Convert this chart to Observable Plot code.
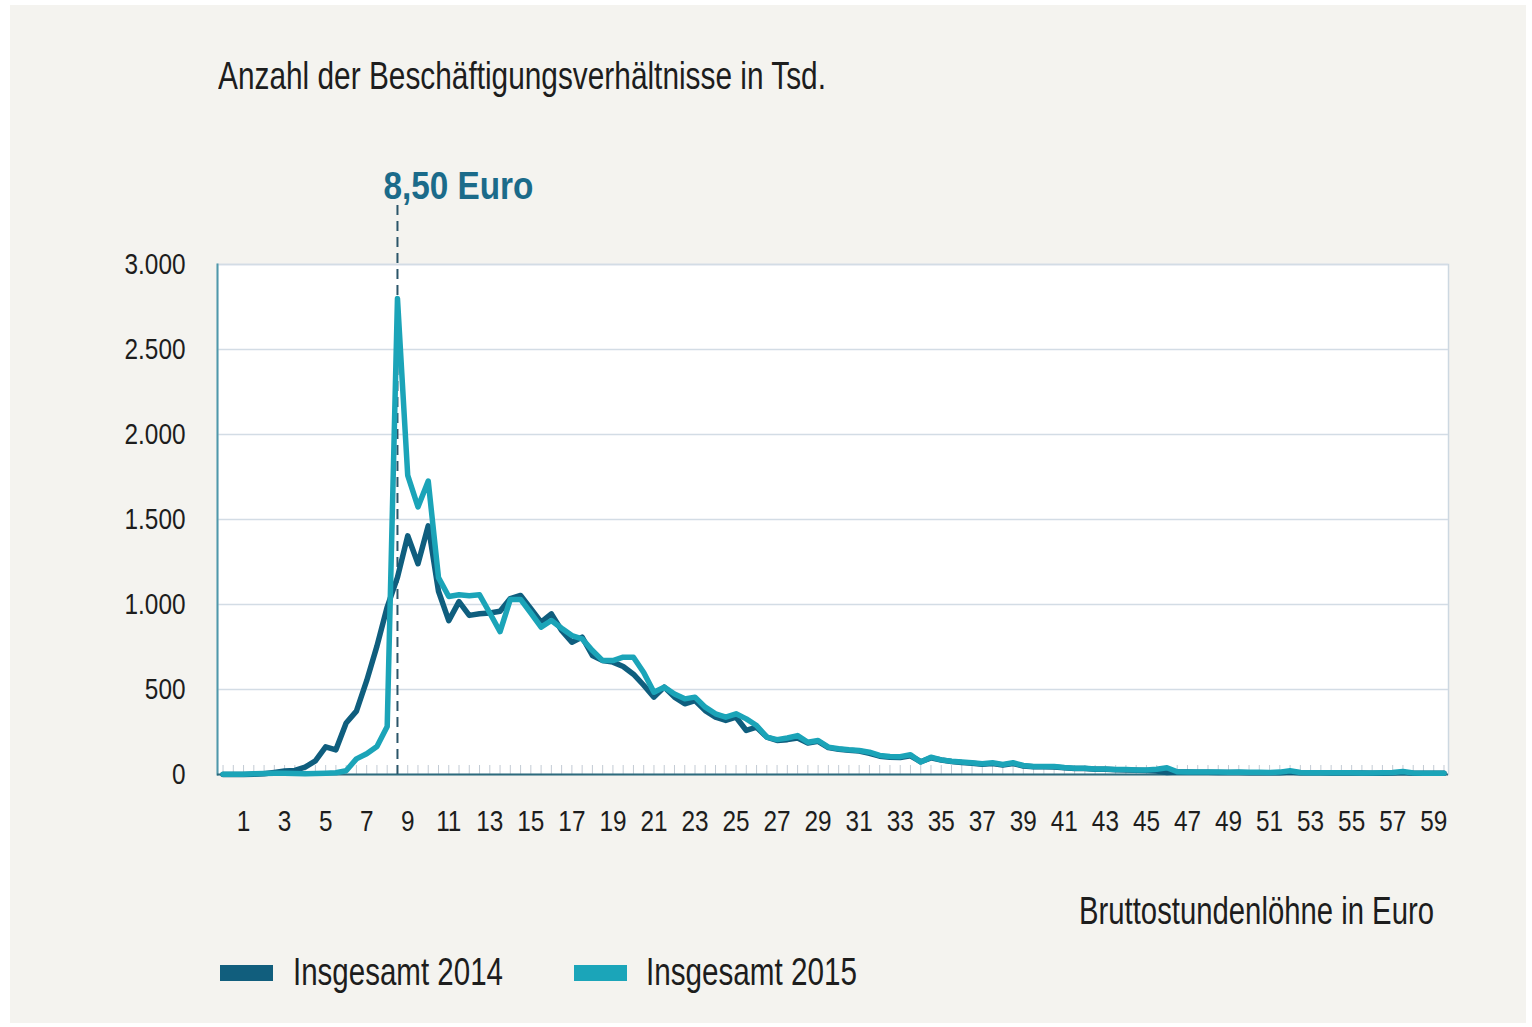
<!DOCTYPE html>
<html><head><meta charset="utf-8">
<script src="https://cdn.jsdelivr.net/npm/d3@7"></script>
<script src="https://cdn.jsdelivr.net/npm/@observablehq/plot@0.6"></script>
<style>
html,body{margin:0;padding:0;background:#fff;width:1532px;height:1027px;overflow:hidden;}
#page{position:absolute;left:10px;top:5px;width:1516px;height:1018px;background:#f4f3ef;}
#chart{position:absolute;left:0;top:0;}
.t{position:absolute;font-family:"Liberation Sans",Arial,sans-serif;color:#1d1d1d;white-space:nowrap;line-height:1;transform-origin:0 0;}
.sw{position:absolute;width:53px;height:16px;}
</style></head><body>
<div id="page"></div>
<div id="chart"></div>
<div class="t" id="title" data-w="608" style="left:218px;top:56px;font-size:39px;">Anzahl der Beschäftigungsverhältnisse in Tsd.</div>
<div class="t" id="xtitle" data-w="355" style="left:1079px;top:891px;font-size:39px;">Bruttostundenlöhne in Euro</div>
<div class="sw" style="left:220px;top:965px;background:#115e7d;"></div>
<div class="t" id="leg1" data-w="210" style="left:293px;top:952px;font-size:39px;">Insgesamt 2014</div>
<div class="sw" style="left:574px;top:965px;background:#1ba5b9;"></div>
<div class="t" id="leg2" data-w="211" style="left:646px;top:952px;font-size:39px;">Insgesamt 2015</div>
<script>
// Bruttostundenlohn-Klassen (Euro), 0,50-Euro-Schritte
const wages = [0,0.5,1,1.5,2,2.5,3,3.5,4,4.5,5,5.5,6,6.5,7,7.5,8,8.5,9,9.5,
  10,10.5,11,11.5,12,12.5,13,13.5,14,14.5,15,15.5,16,16.5,17,17.5,18,18.5,19,19.5,
  20,20.5,21,21.5,22,22.5,23,23.5,24,24.5,25,25.5,26,26.5,27,27.5,28,28.5,29,29.5,
  30,30.5,31,31.5,32,32.5,33,33.5,34,34.5,35,35.5,36,36.5,37,37.5,38,38.5,39,39.5,
  40,40.5,41,41.5,42,42.5,43,43.5,44,44.5,45,45.5,46,46.5,47,47.5,48,48.5,49,49.5,
  50,50.5,51,51.5,52,52.5,53,53.5,54,54.5,55,55.5,56,56.5,57,57.5,58,58.5,59,59.5];

// Insgesamt 2014 (Tsd.)
const values2014 = [0,0,0,2,5,12,20,24,43,80,163,145,303,373,552,755,985,1160,1404,1240,
  1463,1078,905,1017,936,946,950,960,1035,1053,975,896,945,847,778,808,700,670,661,635,
  590,525,455,514,455,416,435,376,337,318,337,259,278,220,200,205,215,185,195,158,
  148,142,138,125,108,102,100,110,75,98,85,76,70,66,60,64,56,64,50,45,
  45,44,39,35,35,31,31,28,27,25,24,20,12,14,14,13,13,12,12,12,
  11,11,11,11,14,10,10,10,9,9,9,9,8,8,9,12,8,7,7,7];

// Insgesamt 2015 (Tsd.)
const values2015 = [2,2,2,4,6,8,8,6,5,6,8,10,22,92,122,165,282,2800,1760,1574,
  1726,1158,1047,1057,1052,1057,950,840,1030,1030,950,867,906,860,817,798,729,670,670,690,
  690,600,484,514,474,445,455,396,357,337,357,327,288,220,205,215,229,190,200,161,
  151,145,141,131,112,106,105,116,73,102,86,78,73,69,63,69,59,69,53,47,
  47,47,41,37,37,33,33,29,29,27,27,31,40,16,15,15,14,14,13,14,
  13,13,12,14,22,12,11,11,10,10,10,9,9,10,12,18,9,8,8,7];

const xTicks = [1,3,5,7,9,11,13,15,17,19,21,23,25,27,29,31,33,35,37,39,41,43,45,47,49,51,53,55,57,59];
const yTicks = [0,500,1000,1500,2000,2500,3000];
const minWage = [8.5];
const minWageLabel = "8,50 Euro";

const series = [
  {name:"Insgesamt 2014", values: values2014, color:"#0f5e7e"},
  {name:"Insgesamt 2015", values: values2015, color:"#1ba4b8"}
];
const rows = series.map(s => wages.map((w,i) => ({wage:w, value:s.values[i], name:s.name})));

const de = d3.formatLocale({decimal:",", thousands:".", grouping:[3], currency:["","€"]});
const fmt = de.format(",");
const FONT = '"Liberation Sans",Arial,sans-serif';

const chart = Plot.plot({
  width: 1532,
  height: 870,
  marginLeft: 217,
  marginRight: 84,
  marginTop: 264,
  marginBottom: 96,
  style: {fontFamily: FONT, color: "#1d1d1d", background: "transparent", overflow: "visible"},
  x: {domain: [-0.27, 59.72]},
  y: {domain: [0, 3000]},
  marks: [
    Plot.frame({fill: "#ffffff", stroke: "#cdd8e1", strokeWidth: 1.5}),
    Plot.ruleY(yTicks.filter(d => d > 0), {stroke: "#d3dce5", strokeWidth: 1.5}),
    Plot.ruleX(wages, {stroke: "#c3cbd4", strokeWidth: 1, insetTop: 501}),
    Plot.frame({anchor: "left", stroke: "#4f98aa", strokeWidth: 2}),
    Plot.ruleY([0], {stroke: "#2d6b7d", strokeWidth: 2}),
    Plot.ruleX(minWage, {stroke: "#2b5569", strokeWidth: 2, strokeDasharray: "10,6", insetTop: -59}),
    Plot.line(rows[0], {x: "wage", y: "value", stroke: series[0].color, strokeWidth: 5.5, strokeLinejoin: "round", strokeLinecap: "round"}),
    Plot.line(rows[1], {x: "wage", y: "value", stroke: series[1].color, strokeWidth: 5.5, strokeLinejoin: "round", strokeLinecap: "round"}),
    Plot.text(minWage, {x: d => d, frameAnchor: "top", lineAnchor: "middle", dy: -78, dx: -14, text: () => minWageLabel,
      textAnchor: "start", fontSize: 39, fontWeight: "bold", fill: "#1b6b8a", fontFamily: FONT}),
    Plot.axisY(yTicks, {tickSize: 0, tickPadding: 32, fontSize: 29, tickFormat: fmt, fill: "#1d1d1d", label: null}),
    Plot.axisX(xTicks, {tickSize: 0, tickPadding: 36, fontSize: 29, tickFormat: d => String(d), fill: "#1d1d1d", label: null})
  ]
});
document.getElementById("chart").appendChild(chart);

// condense SVG texts horizontally around their anchor point
function condense(el, k) {
  const xAttr = parseFloat(el.getAttribute("x")) || 0;
  const dxAttr = parseFloat(el.getAttribute("dx")) || 0;
  const tr = el.getAttribute("transform") || "";
  el.setAttribute("x", 0);
  el.removeAttribute("dx");
  el.setAttribute("transform", `${tr} translate(${xAttr + dxAttr},0) scale(${k},1)`);
}
chart.querySelectorAll('g[aria-label="y-axis tick label"] text, g[aria-label="x-axis tick label"] text')
  .forEach(el => condense(el, 0.84));
Array.from(chart.querySelectorAll("text"))
  .filter(el => el.textContent === minWageLabel)
  .forEach(el => {
    const w = el.getComputedTextLength();
    condense(el, w > 0 ? 150 / w : 0.85);
  });

// fit condensed HTML text widths
document.querySelectorAll(".t[data-w]").forEach(el => {
  const w = el.getBoundingClientRect().width;
  const target = +el.dataset.w;
  if (w > 0) el.style.transform = `scaleX(${target / w})`;
});
</script>
</body></html>
